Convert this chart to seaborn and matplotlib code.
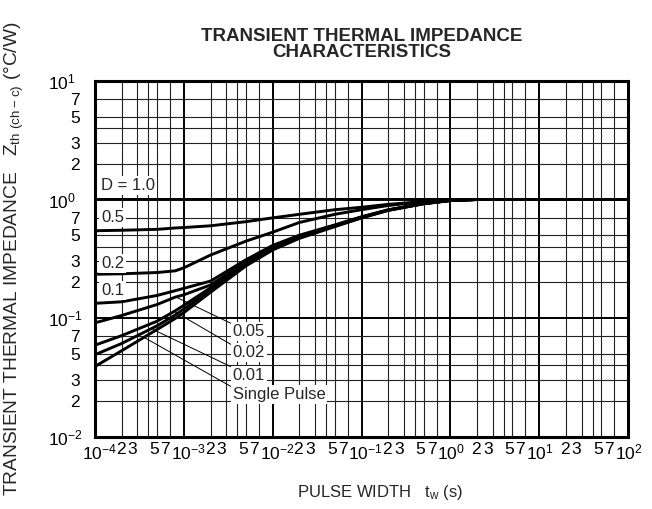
import numpy as np
import matplotlib
matplotlib.use("Agg")
import matplotlib.pyplot as plt
from matplotlib.transforms import ScaledTranslation
import seaborn as sns

# pulse width (s) and Zth for each duty ratio
t_s = [1e-4, 2e-4, 5e-4, 8e-4, 1e-3, 2e-3, 5e-3, 1e-2, 2e-2, 5e-2, 0.1, 0.2, 0.5, 1, 2, 100]
z_d10 = [1.0] * 16
z_d05 = [0.545, 0.55, 0.56, 0.575, 0.58, 0.60, 0.65, 0.70, 0.75, 0.82, 0.86, 0.91, 0.96, 0.99, 1.0, 1.0]
z_d02 = [0.234, 0.236, 0.242, 0.25, 0.265, 0.34, 0.445, 0.53, 0.64, 0.75, 0.82, 0.89, 0.96, 0.99, 1.0, 1.0]
z_d01 = [0.133, 0.137, 0.155, 0.17, 0.178, 0.205, 0.31, 0.41, 0.50, 0.61, 0.715, 0.82, 0.925, 0.985, 1.0, 1.0]
z_d005 = [0.091, 0.105, 0.13, 0.15, 0.157, 0.19, 0.30, 0.40, 0.49, 0.605, 0.71, 0.815, 0.925, 0.98, 1.0, 1.0]
z_d002 = [0.059, 0.071, 0.094, 0.115, 0.128, 0.18, 0.29, 0.39, 0.48, 0.60, 0.705, 0.815, 0.925, 0.98, 1.0, 1.0]
z_d001 = [0.049, 0.061, 0.086, 0.106, 0.119, 0.173, 0.285, 0.385, 0.475, 0.595, 0.70, 0.81, 0.92, 0.98, 1.0, 1.0]
z_single = [0.039, 0.053, 0.080, 0.099, 0.111, 0.165, 0.275, 0.375, 0.47, 0.59, 0.70, 0.81, 0.92, 0.98, 1.0, 1.0]

curves = [z_d10, z_d05, z_d02, z_d01, z_d005, z_d002, z_d001, z_single]

# labels placed on the left, next to their curves
left_labels = ["D = 1.0", "0.5", "0.2", "0.1"]
left_label_z = [1.3, 0.71, 0.29, 0.172]
left_label_t = 1.17e-4

# labels with leader lines
ann_labels = ["0.05", "0.02", "0.01", "Single Pulse"]
ann_text_t = 3.55e-3
ann_text_z = [0.0766, 0.0507, 0.033, 0.0224]
ann_point_t = [7.9e-4, 7.9e-4, 4.5e-4, 3.65e-4]
ann_point_z = [0.152, 0.113, 0.08, 0.068]

# axis ticks
x_decades = [1e-4, 1e-3, 1e-2, 1e-1, 1e0, 1e1, 1e2]
x_decade_labels = ["$10^{-4}$", "$10^{-3}$", "$10^{-2}$", "$10^{-1}$", "$10^{0}$", "$10^{1}$", "$10^{2}$"]
y_decades = [1e-2, 1e-1, 1e0, 1e1]
y_decade_labels = ["$10^{-2}$", "$10^{-1}$", "$10^{0}$", "$10^{1}$"]
sub_mult = [2, 3, 4, 5, 7]
sub_labels = ["2", "3", "", "5", "7"]

sns.set_theme(style="white")
plt.rcParams["font.family"] = ["Liberation Sans", "DejaVu Sans"]
plt.rcParams["mathtext.default"] = "regular"

fig = plt.figure(figsize=(6.52, 5.09), dpi=100)
ax = fig.add_axes([95 / 652, 1 - 436.5 / 509, 533 / 652, 355.5 / 509])
ax.set(xscale="log", yscale="log", xlim=(1e-4, 1e2), ylim=(1e-2, 1e1))

for z in curves:
    sns.lineplot(x=t_s, y=z, color="black", linewidth=2.1, ax=ax, sort=False, estimator=None, zorder=3)

# ticks / grid
x_minor = [m * d for d in x_decades[:-1] for m in sub_mult]
y_minor = [m * d for d in y_decades[:-1] for m in sub_mult]
ax.set_xticks(x_decades)
ax.set_xticklabels(x_decade_labels)
ax.set_xticks(x_minor, minor=True)
ax.set_xticklabels(sub_labels * (len(x_decades) - 1), minor=True)
ax.set_yticks(y_decades)
ax.set_yticklabels(y_decade_labels)
ax.set_yticks(y_minor, minor=True)
ax.set_yticklabels(sub_labels * (len(y_decades) - 1), minor=True)

ax.grid(which="major", color="black", linewidth=1.4)
ax.grid(which="minor", color="#222222", linewidth=0.8)
ax.tick_params(which="both", length=0, labelsize=12.5, colors="black")
ax.tick_params(axis="x", which="both", pad=4)
ax.tick_params(axis="y", which="both", pad=11)
for sp in ax.spines.values():
    sp.set_color("black")
    sp.set_linewidth(2.2)

# nudge tick labels like the original typesetting
def shift(lbl, dx):
    lbl.set_transform(lbl.get_transform() + ScaledTranslation(dx / 100, 0, fig.dpi_scale_trans))

for lbl in ax.get_xticklabels():
    lbl.set_horizontalalignment("left")
    shift(lbl, -13)
x_sub_dx = {"2": -1, "3": -5, "5": -3, "7": -5}
for lbl in ax.get_xticklabels(minor=True):
    shift(lbl, x_sub_dx.get(lbl.get_text(), 0))
for lbl in ax.get_yticklabels():
    lbl.set_horizontalalignment("left")
    shift(lbl, -32)

for txt, zz in zip(left_labels, left_label_z):
    ax.text(left_label_t, zz, txt, fontsize=12, ha="left", va="center", zorder=4,
            bbox=dict(facecolor="white", edgecolor="none", pad=1.5))

for txt, tz, pt, pz in zip(ann_labels, ann_text_z, ann_point_t, ann_point_z):
    ax.annotate(txt, xy=(pt, pz), xytext=(ann_text_t, tz), fontsize=12, ha="left", va="center",
                zorder=4, bbox=dict(facecolor="white", edgecolor="none", pad=1.5),
                arrowprops=dict(arrowstyle="-", color="black", lw=0.7, relpos=(0, 1),
                                shrinkA=0, shrinkB=0))

ax.set_title("TRANSIENT THERMAL IMPEDANCE\nCHARACTERISTICS", fontsize=13.5, fontweight="bold",
             linespacing=0.95, pad=17)
ax.set_xlabel("PULSE WIDTH   t$_{w}$ (s)", fontsize=12)
ax.xaxis.set_label_coords(0.535, -0.131)
ax.set_ylabel("TRANSIENT THERMAL IMPEDANCE   Z$_{th\\ (ch-c)}$ (°C/W)", fontsize=13.8)
ax.yaxis.set_label_coords(-0.13, 0.5)

fig.savefig("out.png", dpi=100)
